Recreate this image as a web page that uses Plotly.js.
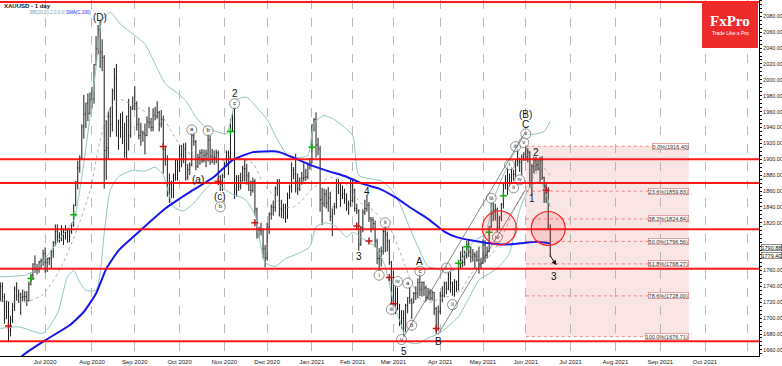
<!DOCTYPE html>
<html><head><meta charset="utf-8">
<script src="https://cdn.plot.ly/plotly-3.0.1.min.js"></script>
<style>html,body{margin:0;padding:0;background:#fff}#chart{width:782px;height:366px}</style>
</head><body><div id="chart"></div>
<script>
// ---------- DATA ----------
const holidays = ['2020-12-25','2021-01-01','2021-04-02'];
const monthKeys = ['2020-06','2020-07','2020-08','2020-09','2020-10','2020-11','2020-12','2021-01','2021-02','2021-03','2021-04','2021-05','2021-06'];
// daily bars [open, high, low, close], one array per month
const bars_2020_06 = [[1726,1745,1721,1740],[1740,1745,1720,1727],[1727,1731,1693,1699],[1699,1722,1699,1714],[1714,1721,1670,1684],[1684,1703,1677,1698],[1698,1719,1694,1715],[1715,1740,1709,1737],[1737,1745,1722,1728],[1728,1736,1719,1730],[1730,1732,1704,1726],[1726,1736,1721,1727],[1727,1734,1721,1727],[1727,1734,1715,1722],[1722,1746,1721,1743],[1743,1756,1741,1754],[1754,1769,1748,1768],[1768,1779,1757,1761],[1761,1768,1755,1762],[1762,1772,1757,1771],[1771,1775,1763,1772],[1772,1786,1766,1781]];
const bars_2020_07 = [[1781,1789,1757,1770],[1770,1776,1758,1775],[1775,1777,1767,1775],[1775,1786,1763,1784],[1784,1797,1776,1795],[1795,1818,1791,1809],[1809,1818,1795,1803],[1803,1808,1795,1798],[1798,1817,1797,1802],[1802,1813,1792,1810],[1810,1817,1799,1808],[1808,1812,1795,1796],[1796,1812,1796,1809],[1809,1820,1806,1817],[1817,1843,1815,1842],[1842,1872,1841,1872],[1872,1898,1862,1889],[1889,1905,1883,1902],[1902,1944,1900,1941],[1941,1981,1926,1957],[1957,1971,1939,1971],[1971,1983,1948,1958],[1958,1984,1956,1975]];
const bars_2020_08 = [[1975,1991,1964,1976],[1976,2020,1970,2019],[2019,2055,2018,2039],[2039,2069,2032,2063],[2063,2075,2015,2035],[2035,2051,2011,2028],[2028,2031,1863,1911],[1911,1949,1874,1914],[1914,1960,1901,1954],[1954,1966,1928,1944],[1944,1989,1935,1986],[1986,2015,1974,2002],[2002,2020,1929,1929],[1929,1950,1912,1947],[1947,1958,1927,1940],[1940,1960,1919,1929],[1929,1946,1902,1908],[1908,1955,1900,1954],[1954,1976,1911,1930],[1930,1967,1927,1964],[1964,1979,1962,1967]];
const bars_2020_09 = [[1967,1992,1962,1970],[1970,1973,1936,1944],[1944,1952,1925,1930],[1930,1946,1917,1934],[1934,1936,1922,1932],[1932,1945,1906,1930],[1930,1954,1929,1947],[1947,1966,1939,1946],[1946,1952,1935,1940],[1940,1964,1935,1956],[1956,1966,1949,1954],[1954,1973,1951,1959],[1959,1961,1935,1944],[1944,1962,1940,1950],[1950,1955,1882,1912],[1912,1917,1892,1900],[1900,1905,1853,1863],[1863,1882,1845,1868],[1868,1873,1851,1862],[1862,1882,1851,1880],[1880,1900,1873,1898],[1898,1899,1873,1886]];
const bars_2020_10 = [[1886,1917,1884,1906],[1906,1918,1890,1900],[1900,1920,1895,1913],[1913,1921,1873,1877],[1877,1894,1874,1887],[1887,1896,1880,1893],[1893,1933,1891,1930],[1930,1934,1917,1922],[1922,1924,1886,1891],[1891,1907,1889,1902],[1902,1912,1893,1908],[1908,1913,1895,1899],[1899,1912,1896,1905],[1905,1912,1890,1907],[1907,1932,1897,1924],[1924,1930,1893,1904],[1904,1913,1895,1902],[1902,1911,1893,1902],[1902,1912,1895,1908],[1908,1911,1872,1878],[1878,1880,1860,1868],[1868,1882,1860,1879]];
const bars_2020_11 = [[1879,1897,1876,1894],[1894,1911,1890,1908],[1908,1911,1880,1903],[1903,1951,1900,1948],[1948,1960,1935,1951],[1951,1965,1850,1862],[1862,1880,1853,1877],[1877,1880,1860,1866],[1866,1883,1862,1873],[1873,1892,1872,1888],[1888,1900,1872,1888],[1888,1894,1868,1879],[1879,1884,1860,1871],[1871,1873,1854,1861],[1861,1877,1858,1872],[1872,1875,1829,1837],[1837,1839,1800,1806],[1806,1815,1801,1811],[1811,1820,1804,1811],[1811,1813,1775,1788],[1788,1792,1764,1776]];
const bars_2020_12 = [[1776,1820,1773,1815],[1815,1833,1806,1831],[1831,1843,1824,1840],[1840,1848,1829,1839],[1839,1866,1834,1863],[1863,1875,1854,1871],[1871,1875,1828,1838],[1838,1849,1826,1836],[1836,1844,1825,1839],[1839,1844,1820,1828],[1828,1858,1825,1855],[1855,1868,1850,1864],[1864,1896,1858,1886],[1886,1890,1875,1881],[1881,1907,1858,1872],[1872,1882,1855,1863],[1863,1877,1860,1870],[1870,1884,1868,1876],[1876,1895,1872,1877],[1877,1888,1873,1878],[1878,1896,1875,1893],[1893,1901,1887,1895]];
const bars_2021_01 = [[1895,1944,1895,1943],[1943,1952,1935,1950],[1950,1959,1902,1918],[1918,1927,1905,1913],[1913,1917,1834,1849],[1849,1864,1817,1844],[1844,1863,1840,1856],[1856,1862,1838,1845],[1845,1865,1834,1851],[1851,1859,1822,1828],[1828,1838,1803,1840],[1840,1845,1830,1840],[1840,1875,1838,1871],[1871,1875,1856,1870],[1870,1871,1840,1855],[1855,1867,1850,1856],[1856,1863,1844,1850],[1850,1857,1835,1844],[1844,1848,1830,1843],[1843,1875,1840,1848]];
const bars_2021_02 = [[1848,1875,1846,1861],[1861,1863,1834,1838],[1838,1844,1831,1835],[1835,1837,1785,1793],[1793,1816,1791,1814],[1814,1837,1808,1833],[1833,1849,1830,1838],[1838,1855,1834,1842],[1842,1846,1821,1826],[1826,1827,1808,1824],[1824,1827,1812,1819],[1819,1823,1789,1797],[1797,1800,1768,1775],[1775,1788,1760,1775],[1775,1790,1765,1784],[1784,1812,1780,1809],[1809,1816,1783,1805],[1805,1809,1784,1797],[1797,1799,1767,1770],[1770,1772,1717,1734]];
const bars_2021_03 = [[1734,1760,1717,1723],[1723,1740,1705,1738],[1738,1738,1710,1712],[1712,1718,1690,1697],[1697,1710,1687,1700],[1700,1710,1677,1683],[1683,1718,1683,1716],[1716,1726,1706,1726],[1726,1739,1718,1722],[1722,1725,1699,1719],[1719,1733,1719,1731],[1731,1740,1723,1731],[1731,1750,1725,1745],[1745,1755,1728,1736],[1736,1746,1727,1745],[1745,1746,1728,1738],[1738,1741,1721,1726],[1726,1738,1723,1733],[1733,1737,1722,1725],[1725,1735,1722,1732],[1732,1733,1704,1712],[1712,1714,1680,1685],[1685,1716,1684,1708]];
const bars_2021_04 = [[1708,1733,1705,1728],[1728,1740,1720,1728],[1728,1746,1726,1744],[1744,1746,1730,1737],[1737,1758,1735,1755],[1755,1758,1732,1744],[1744,1746,1728,1732],[1732,1749,1727,1746],[1746,1747,1733,1736],[1736,1764,1735,1764],[1764,1784,1762,1777],[1777,1790,1764,1770],[1770,1785,1766,1779],[1779,1797,1775,1793],[1793,1798,1777,1783],[1783,1790,1770,1777],[1777,1787,1771,1780],[1780,1783,1762,1778],[1778,1785,1771,1773],[1773,1790,1756,1768],[1768,1776,1763,1769]];
const bars_2021_05 = [[1769,1799,1768,1792],[1792,1798,1770,1779],[1779,1790,1775,1784],[1784,1816,1783,1815],[1815,1845,1813,1831],[1831,1845,1822,1836],[1836,1844,1823,1837],[1837,1839,1808,1815],[1815,1829,1811,1826],[1826,1845,1822,1843],[1843,1869,1838,1867],[1867,1880,1862,1869],[1869,1891,1855,1870],[1870,1882,1865,1877],[1877,1890,1869,1881],[1881,1887,1873,1881],[1881,1900,1876,1899],[1899,1913,1891,1897],[1897,1902,1884,1896],[1896,1906,1880,1903],[1903,1909,1898,1906]];
const bars_2021_06 = [[1906,1916.4,1898,1903],[1903,1914,1896,1909],[1909,1910,1864,1871],[1871,1894,1855,1891],[1891,1903,1882,1899],[1899,1903,1885,1893],[1893,1900,1886,1888],[1888,1903,1869,1899],[1899,1904,1874,1877],[1877,1878,1845,1866],[1866,1870,1845,1859],[1859,1865,1811,1813],[1813,1818,1777,1779.4]];
const monthBars = [bars_2020_06,bars_2020_07,bars_2020_08,bars_2020_09,bars_2020_10,bars_2020_11,bars_2020_12,bars_2021_01,bars_2021_02,bars_2021_03,bars_2021_04,bars_2021_05,bars_2021_06];

// SMA(C,100) – blue line
const smaPts = [['2020-06-10',1640],['2020-06-16',1653],['2020-07-01',1672],['2020-07-17',1691],['2020-07-28',1708],['2020-08-05',1731],['2020-08-12',1762],['2020-08-20',1785],['2020-09-01',1804],['2020-09-22',1838],['2020-10-07',1857],['2020-10-26',1878],['2020-11-06',1899],['2020-11-20',1909],['2020-12-04',1910],['2020-12-09',1909],['2020-12-18',1902],['2021-01-04',1892],['2021-01-14',1885],['2021-01-27',1878],['2021-02-08',1869],['2021-02-18',1863],['2021-03-02',1852],['2021-03-12',1838],['2021-03-24',1825],['2021-04-06',1809],['2021-04-14',1802],['2021-04-23',1798],['2021-05-04',1795],['2021-05-13',1793],['2021-05-21',1793],['2021-06-01',1795],['2021-06-09',1796],['2021-06-17',1794]];
// Bollinger bands (20, 2.0)
const bbUpper = [['2020-06-01',1752],['2020-06-17',1754],['2020-06-24',1760],['2020-07-01',1775],['2020-07-14',1806],['2020-07-21',1823],['2020-07-27',1878],['2020-07-31',1953],['2020-08-05',2016],['2020-08-10',2075],['2020-08-14',2085],['2020-08-21',2070],['2020-08-31',2058],['2020-09-08',2045],['2020-09-15',2020],['2020-09-22',1995],['2020-09-29',1985],['2020-10-06',1974],['2020-10-13',1953],['2020-10-20',1940],['2020-10-27',1935],['2020-11-03',1932],['2020-11-10',1975],['2020-11-17',1978],['2020-11-24',1965],['2020-12-01',1950],['2020-12-08',1925],['2020-12-15',1905],['2020-12-22',1902],['2020-12-30',1905],['2021-01-05',1945],['2021-01-12',1955],['2021-01-19',1950],['2021-01-26',1940],['2021-02-01',1930],['2021-02-04',1880],['2021-02-12',1875],['2021-02-19',1873],['2021-02-26',1862],['2021-03-04',1845],['2021-03-10',1820],['2021-03-17',1790],['2021-03-24',1765],['2021-03-31',1762],['2021-04-07',1758],['2021-04-14',1762],['2021-04-21',1785],['2021-04-28',1800],['2021-05-04',1805],['2021-05-10',1848],['2021-05-17',1880],['2021-05-24',1907],['2021-06-01',1930],['2021-06-08',1932],['2021-06-14',1935],['2021-06-17',1948]];
const bbLower = [['2020-06-01',1687],['2020-06-12',1689],['2020-06-30',1681],['2020-07-09',1706],['2020-07-16',1752],['2020-07-21',1760],['2020-07-24',1745],['2020-07-29',1735],['2020-08-05',1735],['2020-08-07',1756],['2020-08-11',1807],['2020-08-14',1861],['2020-08-20',1878],['2020-08-31',1886],['2020-09-08',1885],['2020-09-15',1890],['2020-09-21',1880],['2020-09-28',1840],['2020-10-05',1835],['2020-10-12',1845],['2020-10-19',1860],['2020-10-26',1872],['2020-11-02',1862],['2020-11-09',1855],['2020-11-16',1850],['2020-11-23',1830],['2020-11-30',1770],['2020-12-07',1765],['2020-12-14',1775],['2020-12-21',1780],['2020-12-31',1790],['2021-01-06',1815],['2021-01-13',1820],['2021-01-20',1815],['2021-01-27',1802],['2021-02-01',1808],['2021-02-08',1800],['2021-02-16',1790],['2021-02-23',1765],['2021-03-01',1720],['2021-03-05',1690],['2021-03-10',1670],['2021-03-17',1668],['2021-03-24',1675],['2021-03-31',1680],['2021-04-08',1690],['2021-04-15',1702],['2021-04-22',1725],['2021-04-29',1748],['2021-05-06',1756],['2021-05-13',1765],['2021-05-20',1782],['2021-05-27',1836],['2021-06-03',1865],['2021-06-10',1872],['2021-06-17',1840]];
const bbMiddle = [['2020-06-01',1722],['2020-06-17',1720],['2020-06-30',1730],['2020-07-10',1760],['2020-07-22',1807],['2020-07-31',1860],['2020-08-07',1924],['2020-08-14',1965],['2020-08-21',1975],['2020-08-31',1968],['2020-09-10',1958],['2020-09-18',1955],['2020-09-25',1935],['2020-10-02',1915],['2020-10-09',1905],['2020-10-16',1900],['2020-10-23',1902],['2020-10-30',1898],['2020-11-06',1903],['2020-11-13',1900],['2020-11-20',1895],['2020-11-27',1870],['2020-12-04',1855],['2020-12-11',1840],['2020-12-18',1840],['2020-12-24',1848],['2020-12-31',1860],['2021-01-08',1870],['2021-01-15',1877],['2021-01-22',1875],['2021-01-29',1862],['2021-02-05',1845],['2021-02-12',1838],['2021-02-19',1825],['2021-02-26',1810],['2021-03-05',1778],['2021-03-12',1745],['2021-03-19',1722],['2021-03-26',1720],['2021-04-01',1725],['2021-04-09',1728],['2021-04-16',1735],['2021-04-23',1755],['2021-04-30',1770],['2021-05-07',1780],['2021-05-14',1800],['2021-05-21',1830],['2021-05-28',1855],['2021-06-04',1875],['2021-06-11',1890],['2021-06-17',1880]];

// small signal crosses
const greenSignals = [['2020-06-22',1750],['2020-07-21',1830],['2020-11-05',1935],['2021-01-04',1915],['2021-04-15',1769],['2021-04-21',1790],['2021-05-06',1808],['2021-05-17',1854]];
const redSignals = [['2020-06-05',1690],['2020-09-21',1916],['2020-10-28',1872],['2020-11-23',1820],['2021-02-03',1816],['2021-02-11',1797],['2021-02-25',1751],['2021-03-01',1718],['2021-03-30',1687],['2021-06-15',1861]];

// horizontal support / resistance levels
const levels = [2098, 1900, 1870, 1812, 1762, 1671];
// Fibonacci retracement
const fibStart = '2021-06-01', fibEnd = '2021-09-21';
const fibLevels = [1916.40, 1859.83, 1824.84, 1796.56, 1768.27, 1728.00, 1676.71];
const fibLabels = ['0.0%(1916.40)','23.6%(1859.83)','38.2%(1824.84)','50.0%(1796.56)','61.8%(1768.27)','78.6%(1728.00)','100.0%(1676.71)'];

// wave labels
const waveText = [['(D)','2020-08-07',2079],['2','2020-11-09',1983],['4','2021-02-10',1860],['3','2021-02-04',1778],['5','2021-03-08',1658],['A','2021-03-18',1771],['B','2021-03-31',1670],['C','2021-06-01',1944],['(B)','2021-06-01',1956],['1','2021-06-04',1850],['2','2021-06-08',1909],['3','2021-06-21',1752],['(a)','2020-10-14',1875],['(c)','2020-10-29',1853]];
const waveCircled = [['c','2020-11-09',1970],['a','2020-10-09',1937],['b','2020-10-21',1936],['b','2020-10-29',1840],['ii','2021-02-23',1820],['i','2021-02-18',1754],['iii','2021-02-26',1711],['iv','2021-03-03',1746],['v','2021-03-05',1673],['a','2021-03-10',1744],['b','2021-03-12',1691],['c','2021-03-18',1759],['i','2021-04-07',1763],['ii','2021-04-12',1717],['iii','2021-05-07',1851],['iv','2021-05-12',1802],['i','2021-05-20',1893],['ii','2021-05-24',1864],['iii','2021-05-25',1916],['iv','2021-05-27',1874],['v','2021-05-31',1921],['v','2021-06-01',1932]];
const circleMarks = [['2021-05-13',1813.6],['2021-06-16',1812.8]];
const channelLines = [['2021-03-08',1676,'2021-06-01',1935],['2021-03-31',1680,'2021-06-01',1862]];
const priceBoxes = [['1790.88',1788.5],['1779.40',1778.3]];

const monthTicks = ['2020-07-01','2020-08-03','2020-09-01','2020-10-01','2020-11-02','2020-12-01','2021-01-04','2021-02-01','2021-03-01','2021-04-01','2021-05-03','2021-06-01','2021-07-01','2021-08-02','2021-09-01','2021-10-01','2021-11-01'];
const monthLabels = ['Jul 2020','Aug 2020','Sep 2020','Oct 2020','Nov 2020','Dec 2020','Jan 2021','Feb 2021','Mar 2021','Apr 2021','May 2021','Jun 2021','Jul 2021','Aug 2021','Sep 2021','Oct 2021',''];
const priceTicks = [1660,1680,1700,1720,1740,1760,1780,1800,1820,1840,1860,1880,1900,1920,1940,1960,1980,2000,2020,2040,2060,2080];
const priceTickText = ['1660.00','1680.00','1700.00','1720.00','1740.00','1760.00','','','1820.00','1840.00','1860.00','1880.00','1900.00','1920.00','1940.00','1960.00','1980.00','2000.00','2020.00','2040.00','2060.00','2080.00'];

// ---------- BUILD ----------
function tradingDates(ym, count){
  const [y,m] = ym.split('-').map(Number); const out=[];
  for(let d=1; d<=31 && out.length<count; d++){
    const dt=new Date(Date.UTC(y,m-1,d)); if(dt.getUTCMonth()!==m-1) break;
    const wd=dt.getUTCDay(); const s=dt.toISOString().slice(0,10);
    if(wd===0||wd===6||holidays.includes(s)) continue; out.push(s);
  }
  return out;
}
const X=[],O=[],H=[],L=[],C=[];
monthKeys.forEach((k,i)=>{const rows=monthBars[i]; const ds=tradingDates(k,rows.length);
  rows.forEach((r,j)=>{X.push(ds[j]);O.push(r[0]);H.push(r[1]);L.push(r[2]);C.push(r[3]);});});

const PW=759, PH=356;
const px=v=>v/PW, py=v=>1-v/PH;
const bbCol='#8fc4c4';
const FONT='Liberation Sans, Arial, sans-serif';
const NARROW='Liberation Sans Narrow, Arial Narrow, Liberation Sans, sans-serif';
const traces=[
  {type:'scatter',mode:'lines',x:bbUpper.map(p=>p[0]),y:bbUpper.map(p=>p[1]),line:{color:bbCol,width:1,shape:'spline',smoothing:0.6}},
  {type:'scatter',mode:'lines',x:bbLower.map(p=>p[0]),y:bbLower.map(p=>p[1]),line:{color:bbCol,width:1,shape:'spline',smoothing:0.6}},
  {type:'scatter',mode:'lines',x:bbMiddle.map(p=>p[0]),y:bbMiddle.map(p=>p[1]),line:{color:'#9a9a9a',width:0.8,dash:'dot',shape:'spline',smoothing:0.6}},
  {type:'ohlc',x:X,open:O,high:H,low:L,close:C,increasing:{line:{color:'#1a1a1a',width:1}},decreasing:{line:{color:'#1a1a1a',width:1}},tickwidth:0.3},
  {type:'scatter',mode:'lines',x:smaPts.map(p=>p[0]),y:smaPts.map(p=>p[1]),line:{color:'#1515f0',width:2,shape:'spline',smoothing:0.5}},
  {type:'scatter',mode:'markers',x:greenSignals.map(p=>p[0]),y:greenSignals.map(p=>p[1]),marker:{symbol:'cross-thin',size:5,line:{color:'#11aa11',width:1.5}}},
  {type:'scatter',mode:'markers',x:redSignals.map(p=>p[0]),y:redSignals.map(p=>p[1]),marker:{symbol:'cross-thin',size:5,line:{color:'#cc1111',width:1.5}}},
  {type:'scatter',mode:'markers+text',x:waveCircled.map(p=>p[1]),y:waveCircled.map(p=>p[2]),text:waveCircled.map(p=>p[0]),textposition:'middle center',
   textfont:{family:FONT,size:6,color:'#222'},marker:{symbol:'circle',size:10,color:'rgba(255,255,255,0.6)',line:{color:'#666',width:0.7}}},
];
const shapes=[];
shapes.push({type:'rect',xref:'x',yref:'y',x0:fibStart,x1:fibEnd,y0:fibLevels[6],y1:fibLevels[0],fillcolor:'rgba(236,160,160,0.28)',line:{width:0},layer:'below'});
fibLevels.forEach(v=>shapes.push({type:'line',xref:'x',yref:'y',x0:fibStart,x1:fibEnd,y0:v,y1:v,line:{color:'rgba(220,80,80,0.8)',width:0.8,dash:'dot'}}));
levels.forEach(v=>shapes.push({type:'line',xref:'paper',yref:'y',x0:0,x1:1,y0:v,y1:v,line:{color:'rgba(255,0,0,0.9)',width:2}}));
channelLines.forEach(c=>shapes.push({type:'line',xref:'x',yref:'y',x0:c[0],y0:c[1],x1:c[2],y1:c[3],line:{color:'#555',width:0.7}}));
circleMarks.forEach(c=>shapes.push({type:'circle',xref:'x',yref:'y',xsizemode:'pixel',ysizemode:'pixel',xanchor:c[0],yanchor:c[1],x0:-17,x1:17,y0:-17,y1:17,fillcolor:'rgba(255,60,60,0.15)',line:{color:'#ff2020',width:1.2}}));
shapes.push({type:'rect',xref:'paper',yref:'paper',x0:px(702),x1:px(758),y0:py(48),y1:py(2),fillcolor:'#ee2b2b',line:{width:0}});

const ann=[];
waveText.forEach(w=>ann.push({x:w[1],y:w[2],xref:'x',yref:'y',text:w[0],showarrow:false,font:{family:FONT,size:10,color:'#111'}}));
fibLevels.forEach((v,i)=>ann.push({x:fibEnd,y:v,xref:'x',yref:'y',xanchor:'right',text:fibLabels[i],showarrow:false,font:{family:FONT,size:5.5,color:'#333'},bgcolor:'rgba(255,255,255,0.85)',bordercolor:'#d07070',borderwidth:0.6,borderpad:0}));
ann.push({x:'2021-06-22',y:1766.5,xref:'x',yref:'y',ax:-7,ay:-11,text:'',showarrow:true,arrowhead:2,arrowsize:1,arrowwidth:1,arrowcolor:'#111'});
ann.push({xref:'paper',yref:'paper',x:px(2),y:py(6),xanchor:'left',yanchor:'middle',text:'<b>XAUUSD - 1 day</b>',showarrow:false,font:{family:FONT,size:6,color:'#111'}});
ann.push({xref:'paper',yref:'paper',x:px(28),y:py(12.5),xanchor:'left',yanchor:'middle',text:'BB(20,20,2.0,0.0)',showarrow:false,font:{family:NARROW,size:4.5,color:'#7aa6b5'}});
ann.push({xref:'paper',yref:'paper',x:px(64),y:py(12.5),xanchor:'left',yanchor:'middle',text:'SMA(C,100)',showarrow:false,font:{family:NARROW,size:4.5,color:'#2a2aff'}});
ann.push({xref:'paper',yref:'paper',x:px(730),y:py(21),xanchor:'center',yanchor:'middle',text:'<b>FxPro</b>',showarrow:false,font:{family:'Liberation Serif, DejaVu Serif, serif',size:15,color:'#fff'}});
ann.push({xref:'paper',yref:'paper',x:px(730),y:py(33),xanchor:'center',yanchor:'middle',text:'Trade Like a Pro',showarrow:false,font:{family:FONT,size:5,color:'#fff'}});
priceBoxes.forEach(b=>ann.push({xref:'paper',yref:'y',x:1,y:b[1],xanchor:'left',yanchor:'middle',xshift:2,text:b[0],showarrow:false,font:{family:NARROW,size:5.5,color:'#111'},bgcolor:'#fff',bordercolor:'#222',borderwidth:0.5,borderpad:0}));

const layout={
  width:782,height:366,margin:{l:0,r:23,t:0,b:10},paper_bgcolor:'#fff',plot_bgcolor:'#fff',showlegend:false,
  xaxis:{type:'date',range:['2020-05-29 20:00','2021-11-08 12:00'],rangebreaks:[{bounds:['sat','mon']},{values:holidays}],
    rangeslider:{visible:false},tickvals:monthTicks,ticktext:monthLabels,showgrid:true,gridcolor:'#a8a8a8',griddash:'dash',gridwidth:0.8,
    ticks:'',showline:true,linecolor:'#000',linewidth:1,tickfont:{family:FONT,size:6,color:'#222'},zeroline:false},
  yaxis:{side:'right',range:[1652.3,2100.5],tickvals:priceTicks,ticktext:priceTickText,ticks:'outside',ticklen:2,tickcolor:'#000',ticklabelstandoff:0,
    showline:true,linecolor:'#000',linewidth:1,showgrid:false,zeroline:false,tickfont:{family:NARROW,size:5.5,color:'#222'},
    minor:{ticks:'outside',ticklen:1.5,dtick:5,tickcolor:'#000',showgrid:false}},
  shapes:shapes,annotations:ann
};
Plotly.newPlot('chart',traces,layout,{staticPlot:true,displayModeBar:false});
</script></body></html>
